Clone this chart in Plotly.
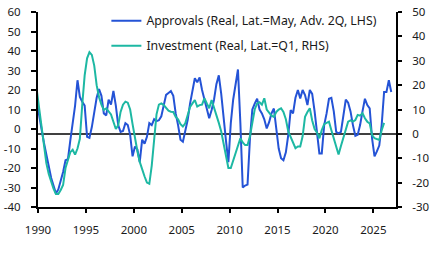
import plotly.graph_objects as go
import pandas as pd

# ---- data (quarterly) ----
# Approvals (Real, advanced 2Q), LHS, starting 1989 Q4
approvals = [
    14,
    6, 0, -7, -13,          # 1990
    -20, -25, -29, -33,     # 1991
    -31, -27, -22, -16,     # 1992
    -15.5, -6, 3, 12,       # 1993
    25, 16.5, 14, 12,       # 1994
    -4, -4.5, 1, 9,         # 1995
    16, 20.5, 17, 8,        # 1996
    7, 15, 12.5, 19.5,      # 1997
    12, 2, -1.5, -1,        # 1998
    3, 2, -3, -14,          # 1999
    -9, -10.5, -17, -5.5,   # 2000
    -7.5, -4, 3, 2,         # 2001
    5, 4, 4.5, 6.5,         # 2002
    13, 17.5, 18.5, 19.5,   # 2003
    17, 8, 2, -5.5,         # 2004
    -6.5, -1.5, 4.6, 13,    # 2005
    20, 26, 24, 26.5,       # 2006
    20, 15, 10, 5.5,        # 2007
    9.7, 15, 23, 27.5,      # 2008
    18, 4.5, -6, -17,       # 2009
    3, 15, 23, 30.5,        # 2010
    3, -30, -29, -28.5,     # 2011
    -5, 10, 13, 15.5,       # 2012
    10, 8, 5, 0.3,          # 2013
    3.5, 8, 10.5, -0.5,     # 2014
    -10, -15, -16, -12,     # 2015
    -3, 9.7, 8, 16,         # 2016
    20, 15.7, 20, 17.4,     # 2017
    12.3, 20, 18, 9,        # 2018
    -2, -12.5, -12.5, 2,    # 2019
    8, 15.5, 16, 9,         # 2020
    -1.5, -2.2, -1.5, 6,    # 2021
    15, 13.5, 9, 2,         # 2022
    -3.5, -3, 2, 9,         # 2023
    15.5, 12.3, 10.6, -5,   # 2024
    -14, -11.5, -8.5, 2,    # 2025
    19, 19, 25, 19,         # 2026
]

# Investment (Real), RHS, starting 1989 Q4
investment = [
    18,
    10, 3, -5, -12,             # 1990
    -16.5, -20, -22.5, -24.7,   # 1991
    -24.7, -23, -21, -14,       # 1992
    -10.5, -7.5, -6.5, -8.5,    # 1993
    -6, -2, 12, 24,             # 1994
    31, 33.5, 32.4, 28,         # 1995
    20, 15, 12, 9.8,            # 1996
    10.5, 9, 8, 5,              # 1997
    2, 3.5, 9, 12,              # 1998
    13.2, 12.8, 10, 4,          # 1999
    -2, -7, -11.5, -15,         # 2000
    -17.5, -20, -20.5, -13,     # 2001
    -3, 8, 12, 12.5,            # 2002
    11.8, 10.5, 9.5, 9.1,       # 2003
    9, 7, 6, 4,                 # 2004
    3, 4.3, 8, 11,              # 2005
    12.5, 13.9, 11.2, 11.8,     # 2006
    12, 14.6, 12.5, 10.5,       # 2007
    13.9, 11, 8, 4.5,           # 2008
    1, -4, -9.5, -14,           # 2009
    -14, -11, -7, -4,           # 2010
    -1.8, -3.5, -4.6, -4.6,     # 2011
    -1, 4.5, 10, 12.5,          # 2012
    13, 12, 14.6, 10,           # 2013
    8.5, 7.5, 7, 9,             # 2014
    10, 10.5, 9, 6,             # 2015
    1, -1.5, -4, -5.9,          # 2016
    -5.2, -5.2, -1, 7,          # 2017
    9, 10.5, 5.5, 2,            # 2018
    0.5, -1.8, 1.6, 4,          # 2019
    4.5, 5, 1.5, -2,            # 2020
    -5, -8.5, -5, -1.5,         # 2021
    2, 5, 5.5, 5,               # 2022
    5.7, 7.8, 7.5, 8.5,         # 2023
    6.4, 5, 4.3, -0.5,          # 2024
    -1.8, -2.2, -2.5, 1.5,      # 2025
    4.5,                        # 2026
]

x_tick_years = [1990, 1995, 2000, 2005, 2010, 2015, 2020, 2025]
left_ticks = [-40, -30, -20, -10, 0, 10, 20, 30, 40, 50, 60]
right_ticks = [-30, -20, -10, 0, 10, 20, 30, 40, 50]

name_a = "Approvals (Real, Lat.=May, Adv. 2Q, LHS)"
name_i = "Investment (Real, Lat.=Q1, RHS)"

BLUE = "#2453D6"
TEAL = "#1DB8A3"
FONT = "Noto Sans"

start = pd.Timestamp("1989-10-01")
dates_a = pd.date_range(start, periods=len(approvals), freq="QS") + pd.Timedelta(days=45)
dates_i = pd.date_range(start, periods=len(investment), freq="QS") + pd.Timedelta(days=45)

fig = go.Figure()
fig.add_trace(go.Scatter(x=dates_i, y=investment, name=name_i, yaxis="y2",
                         mode="lines", line=dict(color=TEAL, width=2),
                         legendgroup="b", legendrank=2))
fig.add_trace(go.Scatter(x=dates_a, y=approvals, name=name_a,
                         mode="lines", line=dict(color=BLUE, width=2),
                         legendgroup="a", legendrank=1))

tickfont = dict(family=FONT, size=11.5, color="#1a1a1a")

fig.update_layout(
    width=436, height=253,
    margin=dict(l=38, r=40, t=12, b=46, autoexpand=False),
    paper_bgcolor="white", plot_bgcolor="white",
    font=dict(family=FONT, size=12, color="#1a1a1a"),
    showlegend=True,
    legend=dict(x=0.191, y=1.03, xanchor="left", yanchor="top",
                bgcolor="rgba(0,0,0,0)", font=dict(family=FONT, size=12.3, color="#1a1a1a"),
                traceorder="grouped", tracegroupgap=6),
    xaxis=dict(type="date", range=["1990-01-01", "2027-05-15"],
               tickvals=[f"{y}-01-01" for y in x_tick_years],
               ticktext=[str(y) for y in x_tick_years],
               ticks="outside", ticklen=4, tickwidth=1.5, tickcolor="black",
               showline=True, linecolor="black", linewidth=2,
               showgrid=False, zeroline=False, tickfont=tickfont,
               ticklabelstandoff=7, automargin=False),
    yaxis=dict(range=[-40, 60], tickvals=left_ticks,
               ticktext=[str(v) for v in left_ticks],
               ticks="outside", ticklen=5, tickwidth=1.5, tickcolor="black",
               showline=True, linecolor="black", linewidth=2,
               showgrid=False, zeroline=False, tickfont=tickfont,
               ticklabelstandoff=8, automargin=False),
    yaxis2=dict(range=[-30, 50], tickvals=right_ticks,
                ticktext=[str(v) for v in right_ticks],
                overlaying="y", side="right",
                ticks="outside", ticklen=4, tickwidth=1.5, tickcolor="black",
                showline=True, linecolor="black", linewidth=2,
                showgrid=False, zeroline=False, tickfont=tickfont,
                ticklabelstandoff=8, automargin=False),
    shapes=[dict(type="line", xref="paper", x0=0, x1=1, yref="y2", y0=0, y1=0,
                 line=dict(color="black", width=1.5), layer="below")],
)

fig.write_html("out.html")
